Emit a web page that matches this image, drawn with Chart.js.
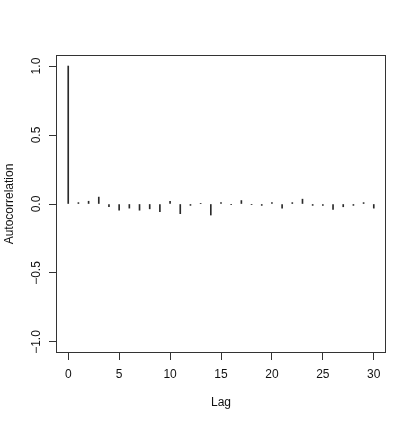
<!DOCTYPE html>
<html>
<head>
<meta charset="utf-8">
<script src="https://cdn.jsdelivr.net/npm/chart.js@4"></script>
<style>
  html, body { margin: 0; padding: 0; background: #fff; }
  canvas { display: block; }
</style>
</head>
<body>
<canvas id="c" width="415" height="423"></canvas>
<script>
const lags = [0,1,2,3,4,5,6,7,8,9,10,11,12,13,14,15,16,17,18,19,20,21,22,23,24,25,26,27,28,29,30];
const acfValues = [1, 0.01, 0.02, 0.05, -0.02, -0.045, -0.03, -0.045, -0.035, -0.055, 0.02, -0.07, -0.01, 0.005, -0.08, 0.01, -0.005, 0.025, -0.005, -0.01, 0.01, -0.03, 0.01, 0.035, -0.01, -0.01, -0.04, -0.02, -0.01, 0.01, -0.03];
const xTicks = [0, 5, 10, 15, 20, 25, 30];
const yTicks = [-1.0, -0.5, 0.0, 0.5, 1.0];
const xTitle = 'Lag';
const yTitle = 'Autocorrelation';

const FONT = 'Liberation Sans, Arial, Helvetica, sans-serif';
const LINE = '#333';
const TEXT = '#111';

const boxPlugin = {
  id: 'box',
  afterDraw(chart) {
    const a = chart.chartArea, ctx = chart.ctx;
    ctx.save();
    ctx.strokeStyle = LINE;
    ctx.lineWidth = 1;
    ctx.strokeRect(Math.round(a.left) + 0.5, Math.round(a.top) + 0.5,
                   Math.round(a.right - a.left) - 1, Math.round(a.bottom - a.top) - 1);
    ctx.restore();
  }
};

new Chart(document.getElementById('c'), {
  type: 'bar',
  data: {
    datasets: [{
      data: lags.map((l, i) => ({ x: l, y: acfValues[i] })),
      backgroundColor: '#2a2a2a',
      borderWidth: 0,
      barThickness: 1
    }]
  },
  options: {
    responsive: false,
    animation: false,
    devicePixelRatio: 1,
    layout: { padding: { top: 55, right: 29, left: 0, bottom: 0 } },
    plugins: { legend: { display: false }, tooltip: { enabled: false } },
    scales: {
      x: {
        type: 'linear',
        offset: false,
        min: -1.2, max: 31.2,
        afterBuildTicks: s => { s.ticks = xTicks.map(v => ({ value: v })); },
        afterFit: s => { s.height = 70; },
        grid: { offset: false, drawOnChartArea: false, drawTicks: true, tickLength: 7, tickColor: LINE, tickWidth: 1 },
        border: { display: false },
        ticks: { color: TEXT, font: { family: FONT, size: 12 }, padding: 7, maxRotation: 0, autoSkip: false },
        title: { display: true, text: xTitle, color: TEXT, font: { family: FONT, size: 12 }, padding: { top: 0, bottom: 13 } }
      },
      y: {
        type: 'linear',
        min: -1.08, max: 1.08,
        afterBuildTicks: s => { s.ticks = yTicks.map(v => ({ value: v })); },
        afterFit: s => { s.width = 56; },
        grid: { drawOnChartArea: false, drawTicks: true, tickLength: 7, tickColor: LINE, tickWidth: 1 },
        border: { display: false },
        ticks: {
          color: TEXT, font: { family: FONT, size: 12 }, padding: 0,
          minRotation: 90, maxRotation: 90, crossAlign: 'center', autoSkip: false,
          callback: v => v.toFixed(1).replace('-', '\u2212')
        },
        title: { display: true, text: yTitle, color: TEXT, font: { family: FONT, size: 12 }, padding: { top: 2, bottom: 0 } }
      }
    }
  },
  plugins: [boxPlugin]
});
</script>
</body>
</html>
